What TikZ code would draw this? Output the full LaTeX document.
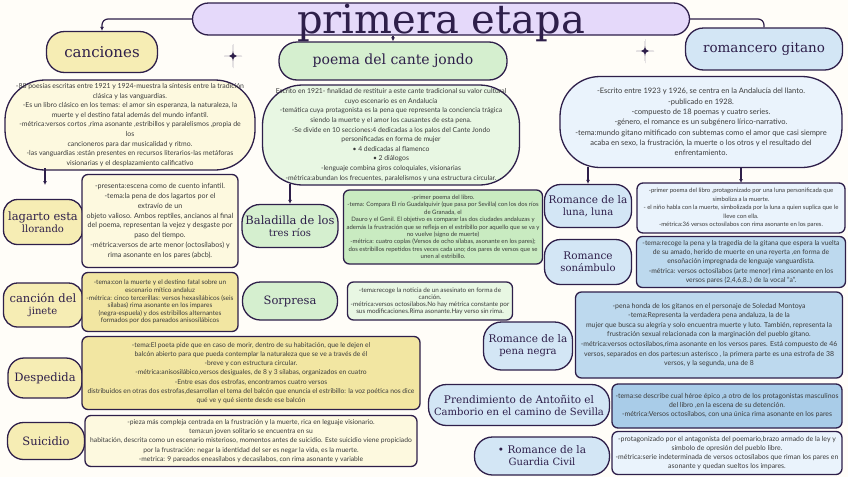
\documentclass[tikz,border=0pt]{standalone}
\usepackage{fontspec}
\setmainfont{Lato}
\newfontfamily\headf{DejaVu Serif}
\usetikzlibrary{arrows.meta}
\definecolor{bd}{HTML}{2E1F4A}
\definecolor{bgc}{HTML}{FFFDF8}
\definecolor{lav}{HTML}{E5D9FA}
\definecolor{yh}{HTML}{F6EDB4}
\definecolor{yp}{HTML}{FDF9DF}
\definecolor{yd}{HTML}{F2E6A2}
\definecolor{gh}{HTML}{D5EFCF}
\definecolor{gp}{HTML}{E8F7E3}
\definecolor{gd}{HTML}{C9EBC1}
\definecolor{bh}{HTML}{D3E6F5}
\definecolor{bp}{HTML}{EAF3FC}
\definecolor{bm}{HTML}{BDD9EE}
\definecolor{bk}{HTML}{A9CCE8}
\definecolor{tx}{HTML}{3A3A3A}
\tikzset{
 hd/.style={draw=bd,line width=1.3pt,rounded corners=18pt,align=center,text=bd,font=\headf,inner sep=1pt},
 ds/.style={draw=bd,line width=1.3pt,rounded corners=6pt,align=center,text=tx,inner sep=2pt},
 big/.style={draw=bd,line width=1.3pt,rounded corners=40pt,align=center,text=tx,inner sep=2pt},
 con/.style={draw=bd,line width=1.2pt,-{Latex[length=4pt,width=4pt]}}
}
\newcommand{\bx}[6]{\node[#1,minimum width=#4,minimum height=#5] (#2) at (#3) {#6};}
\begin{document}
\begin{tikzpicture}[x=1pt,y=-1pt]
\fill[bgc] (0,0) rectangle (848,477);
\useasboundingbox (0,0) rectangle (848,477);
% title
\bx{hd,fill=lav,rounded corners=16pt}{title}{441,19}{497pt}{32pt}{}
\node[text=bd,font=\headf,inner sep=0pt] (ttl) at (441,23) {\fontsize{40}{40}\selectfont primera etapa};
\bx{hd,fill=yh}{can}{102,52}{111pt}{41pt}{\fontsize{15}{17}\selectfont canciones}
\bx{hd,fill=gh}{poe}{393,61}{228pt}{38pt}{\fontsize{14}{17}\selectfont poema del cante jondo}
\bx{hd,fill=bh}{rom}{764,49}{157pt}{42pt}{\fontsize{13.5}{16}\selectfont romancero gitano}
\draw[con,rounded corners=6pt] (title.west) -| (can.north);
\draw[bd,line width=1.2pt,rounded corners=6pt] (title.east) -| (rom.north);
\draw[con] (poe.north |- title.south) -- (poe.north);
% stars
\fill[bd] (233,44) .. controls (233,56) .. (242,56) .. controls (233,56) .. (233,68) .. controls (233,56) .. (224,56) .. controls (233,56) .. cycle;
\fill[bd] (645,39) .. controls (645,51) .. (654,51) .. controls (645,51) .. (645,63) .. controls (645,51) .. (636,51) .. controls (645,51) .. cycle;
% big descriptions
\bx{big,fill=yp}{cand}{130,125}{250pt}{90pt}{\parbox{228pt}{\centering\fontsize{6.9}{9.6}\selectfont -88 poesías escritas entre 1921 y 1924-muestra la síntesis entre la tradición clásica y las vanguardias.\\ -Es un libro clásico en los temas: el amor sin esperanza, la naturaleza, la muerte y el destino fatal además del mundo infantil.\\ -métrica:versos cortos ,rima asonante ,estribillos y paralelismos ,propia de los\\ cancioneros para dar musicalidad y ritmo.\\ -las vanguardias :están presentes en recursos literarios-las metáforas visionarias y el desplazamiento calificativo}}
\bx{big,fill=gp}{poed}{391,135}{257pt}{100pt}{\parbox{238pt}{\centering\fontsize{6.8}{9.6}\selectfont Escrito en 1921- finalidad de restituir a este cante tradicional su valor cultural cuyo escenario es en Andalucía\\ -temática cuya protagonista es la pena que representa la conciencia trágica siendo la muerte y el amor los causantes de esta pena.\\ -Se divide en 10 secciones:4 dedicadas a los palos del Cante Jondo personificadas en forma de mujer\\ • 4 dedicadas al flamenco\\ • 2 diálogos\\ -lenguaje combina giros coloquiales, visionarias\\ -métrica:abundan los frecuentes, paralelismos y una estructura circular.}}
\bx{big,fill=bp}{romd}{701,122}{282pt}{91pt}{\parbox{262pt}{\centering\fontsize{7.5}{10.3}\selectfont -Escrito entre 1923 y 1926, se centra en la Andalucía del llanto.\\ -publicado en 1928.\\ -compuesto de 18 poemas y cuatro series.\\ -género, el romance es un subgénero lírico-narrativo.\\ -tema:mundo gitano mitificado con subtemas como el amor que casi siempre acaba en sexo, la frustración, la muerte o los otros y el resultado del enfrentamiento.}}
% left column
\bx{hd,fill=yh,rounded corners=14pt}{lag}{43,222}{79pt}{45pt}{\fontsize{11.5}{16}\selectfont lagarto esta\\llorando}
\bx{ds,fill=yp}{lagd}{160,221}{156pt}{93pt}{\parbox{150pt}{\centering\fontsize{7.1}{9.8}\selectfont -presenta:escena como de cuento infantil.\\ -tema:la pena de dos lagartos por el\\ extravío de un\\ objeto valioso. Ambos reptiles, ancianos al final del poema, representan la vejez y desgaste por paso del tiempo.\\ -métrica:versos de arte menor (octosílabos) y rima asonante en los pares (abcb).}}
\bx{hd,fill=yh,rounded corners=14pt}{jin}{43,305}{79pt}{44pt}{\fontsize{11.5}{16}\selectfont canción del\\jinete}
\bx{ds,fill=yd}{jind}{160,302}{156pt}{59pt}{\parbox{148pt}{\centering\fontsize{6.5}{7.6}\selectfont -tema:con la muerte y el destino fatal sobre un escenario mítico andaluz\\ -métrica: cinco tercerillas: versos hexasílábicos (seis sílabas) rima asonante en los impares (negra-espuela) y dos estribillos alternantes formados por dos pareados anisosílábicos}}
\bx{hd,fill=yh,rounded corners=16pt}{des}{45,378}{74pt}{40pt}{\fontsize{11.5}{16}\selectfont Despedida}
\bx{ds,fill=yd}{desd}{251,373}{338pt}{73pt}{\parbox{334pt}{\centering\fontsize{6.7}{9.2}\selectfont -tema:El poeta pide que en caso de morir, dentro de su habitación, que le dejen el\\ balcón abierto para que pueda contemplar la naturaleza que se ve a través de él\\ -breve y con estructura circular.\\ -métrica:anisosilábico,versos desiguales, de 8 y 3 sílabas, organizados en cuatro\\ -Entre esas dos estrofas, encontramos cuatro versos\\ distribuidos en otras dos estrofas,desarrollan el tema del balcón que enuncia el estribillo: la voz poética nos dice qué ve y qué siente desde ese balcón}}
\bx{hd,fill=yh,rounded corners=16pt}{sui}{46,441}{77pt}{37pt}{\fontsize{11.5}{16}\selectfont Suicidio}
\bx{ds,fill=yp}{suid}{251,441}{332pt}{51pt}{\parbox{328pt}{\centering\fontsize{6.7}{9.2}\selectfont -pieza más compleja centrada en la frustración y la muerte, rica en leguaje visionario.\\ tema:un joven solitario se encuentra en su\\ habitación, descrita como un escenario misterioso, momentos antes de suicidio. Este suicidio viene propiciado por la frustración: negar la identidad del ser es negar la vida, es la muerte.\\ -metrica: 9 pareados eneasílabos y decasílabos, con rima asonante y variable}}
% middle
\bx{hd,fill=gh,rounded corners=18pt}{bal}{290,226}{96pt}{43pt}{\fontsize{11.5}{17}\selectfont Baladilla de los\\tres ríos}
\bx{ds,fill=gd}{bald}{443,227}{197pt}{74pt}{\parbox{195pt}{\centering\fontsize{6}{7.4}\selectfont -primer poema del libro.\\ -tema: Compara El río Guadalquivir (que pasa por Sevilla) con los dos ríos de Granada, el\\ Dauro y el Genil. El objetivo es comparar las dos ciudades andaluzas y además la frustración que se refleja en el estribillo por aquello que se va y no vuelve (signo de muerte)\\ -métrica: cuatro coplas (Versos de ocho sílabas, asonante en los pares); dos estribillos repetidos tres veces cada uno; dos pares de versos que se unen al estribillo.}}
\bx{hd,fill=gh,rounded corners=18pt}{sor}{290,301}{95pt}{38pt}{\fontsize{11.5}{16}\selectfont Sorpresa}
\bx{ds,fill=gp}{sord}{430,301}{165pt}{38pt}{\parbox{160pt}{\centering\fontsize{6.3}{7}\selectfont -tema:recoge la noticia de un asesinato en forma de canción.\\ -métrica:versos octosílabos.No hay métrica constante por sus modificaciones.Rima asonante.Hay verso sin rima.}}
% right
\bx{hd,fill=bh,rounded corners=16pt}{lun}{588,206}{87pt}{43pt}{\fontsize{10.5}{16}\selectfont Romance de la\\luna, luna}
\bx{ds,fill=bp}{lund}{741,208}{208pt}{50pt}{\parbox{204pt}{\centering\fontsize{6}{8.5}\selectfont -primer poema del libro ,protagonizado por una luna personificada que simboliza a la muerte.\\ - el niño habla con la muerte, simbolizada por la luna a quien suplica que le lleve con ella.\\ -métrica:36 versos octosílabos con rima asonante en los pares.}}
\bx{hd,fill=bh,rounded corners=16pt}{son}{588,262}{87pt}{45pt}{\fontsize{10.5}{16}\selectfont Romance\\sonámbulo}
\bx{ds,fill=bm}{sond}{741,262}{209pt}{51pt}{\parbox{200pt}{\centering\fontsize{6.8}{9.3}\selectfont -tema:recoge la pena y la tragedia de la gitana que espera la vuelta de su amado, herido de muerte en una reyerta ,en forma de ensoñación impregnada de lenguaje vanguardista.\\ -métrica: versos octosílabos (arte menor) rima asonante en los versos pares (2,4,6,8..) de la vocal "a".}}
\bx{hd,fill=bh,rounded corners=18pt}{pen}{528,346}{89pt}{48pt}{\fontsize{10.5}{16}\selectfont Romance de la\\pena negra}
\bx{ds,fill=bm}{pend}{709,335}{267pt}{86pt}{\parbox{262pt}{\centering\fontsize{6.9}{9.6}\selectfont -pena honda de los gitanos en el personaje de Soledad Montoya\\ -tema:Representa la verdadera pena andaluza, la de la\\ mujer que busca su alegría y solo encuentra muerte y luto. También, representa la frustración sexual relacionada con la marginación del pueblo gitano.\\ -métrica:versos octosílabos,rima asonante en los versos pares. Está compuesto de 46 versos, separados en dos partes:un asterisco , la primera parte es una estrofa de 38 versos, y la segunda, una de 8}}
\bx{hd,fill=bh,rounded corners=18pt}{pre}{519,405}{181pt}{41pt}{\fontsize{10.5}{15}\selectfont Prendimiento de Antoñito el\\Camborio en el camino de Sevilla}
\bx{ds,fill=bk}{pred}{727,406}{230pt}{44pt}{\parbox{226pt}{\centering\fontsize{6.9}{9}\selectfont -tema:se describe cual héroe épico ,a otro de los protagonistas masculinos del libro ,en la escena de su detención.\\ -métrica:Versos octosílabos, con una única rima asonante en los pares}}
\bx{hd,fill=bh,rounded corners=18pt}{gua}{542,456}{135pt}{38pt}{\fontsize{10.5}{15}\selectfont • Romance de la\\Guardia Civil}
\bx{ds,fill=bp}{guad}{727,453}{230pt}{43pt}{\parbox{226pt}{\centering\fontsize{6.9}{9}\selectfont -protagonizado por el antagonista del poemario,brazo armado de la ley y símbolo de opresión del pueblo libre.\\ -métrica:serie indeterminada de versos octosílabos que riman los pares en asonante y quedan sueltos los impares.}}
% arrows from descriptions
\coordinate (a1) at (45,168);
\coordinate (a2) at (290,184);
\coordinate (a3) at (588,167);
\coordinate (a4) at (741,167);
\coordinate (e1) at (45,185);
\coordinate (e4) at (741,183);
\draw[con] (a1) -- (e1);
\draw[con] (a2) -- (bal.north);
\draw[con] (a3) -- (lun.north);
\draw[con] (a4) -- (e4);
\end{tikzpicture}
\end{document}
